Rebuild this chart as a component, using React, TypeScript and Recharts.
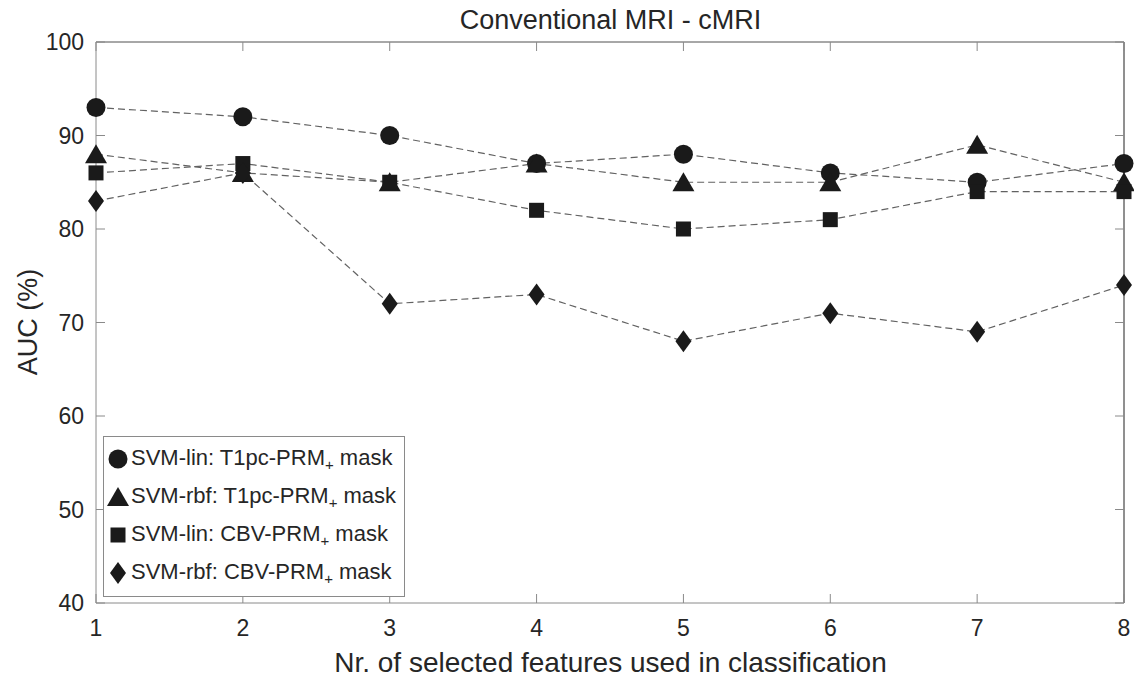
import React from 'react';
import { LineChart, Line, XAxis, YAxis, ReferenceLine } from 'recharts';

const xValues = [1, 2, 3, 4, 5, 6, 7, 8];
const svmLinT1 = [93, 92, 90, 87, 88, 86, 85, 87];
const svmRbfT1 = [88, 86, 85, 87, 85, 85, 89, 85];
const svmLinCBV = [86, 87, 85, 82, 80, 81, 84, 84];
const svmRbfCBV = [83, 86, 72, 73, 68, 71, 69, 74];
const yTicks = [40, 50, 60, 70, 80, 90, 100];
const xTicks = [1, 2, 3, 4, 5, 6, 7, 8];
const seriesLabels = [
  { pre: 'SVM-lin: T1pc-PRM', post: ' mask', shape: 'circle' },
  { pre: 'SVM-rbf: T1pc-PRM', post: ' mask', shape: 'triangle' },
  { pre: 'SVM-lin: CBV-PRM', post: ' mask', shape: 'square' },
  { pre: 'SVM-rbf: CBV-PRM', post: ' mask', shape: 'diamond' },
];
const title = 'Conventional MRI - cMRI';
const xLabel = 'Nr. of selected features used in classification';
const yLabel = 'AUC (%)';

const data = xValues.map((x, i) => ({
  x,
  a: svmLinT1[i],
  b: svmRbfT1[i],
  c: svmLinCBV[i],
  d: svmRbfCBV[i],
}));

const FONT = '"Liberation Sans", Arial, Helvetica, sans-serif';
const TEXT = '#262626';
const AXIS = '#8a8a8a';
const MARK = '#1a1a1a';
const LINE = '#626262';
const TICK_LEN = 9;

function Marker({ shape, cx, cy }: { shape: string; cx: number; cy: number }) {
  if (shape === 'circle') return <circle cx={cx} cy={cy} r={9.5} fill={MARK} />;
  if (shape === 'triangle') {
    const w = 11, h = 10;
    return <polygon points={`${cx},${cy - h} ${cx - w},${cy + h * 0.9} ${cx + w},${cy + h * 0.9}`} fill={MARK} />;
  }
  if (shape === 'square') return <rect x={cx - 7.5} y={cy - 7.5} width={15} height={15} fill={MARK} />;
  return <polygon points={`${cx},${cy - 11} ${cx + 8},${cy} ${cx},${cy + 11} ${cx - 8},${cy}`} fill={MARK} />;
}

const makeDot = (shape: string) => (props: any) => {
  const { cx, cy, index } = props;
  if (cx == null || cy == null) return <g key={`${shape}-${index}`} />;
  return (
    <g key={`${shape}-${index}`}>
      <Marker shape={shape} cx={cx} cy={cy} />
    </g>
  );
};

const LeftTick = (props: any) => {
  const { x, y, payload } = props;
  const axisX = x + 12;
  return (
    <g>
      <line x1={axisX} y1={y} x2={axisX + TICK_LEN} y2={y} stroke={AXIS} strokeWidth={1} />
      <text x={x} y={y} dy={8} textAnchor="end" fill={TEXT} fontSize={23} fontFamily={FONT}>
        {payload.value}
      </text>
    </g>
  );
};

const RightTick = (props: any) => {
  const { x, y } = props;
  return <line x1={x} y1={y} x2={x - TICK_LEN} y2={y} stroke={AXIS} strokeWidth={1} />;
};

const BottomTick = (props: any) => {
  const { x, y, payload } = props;
  const axisY = y - 10;
  return (
    <g>
      <line x1={x} y1={axisY} x2={x} y2={axisY - TICK_LEN} stroke={AXIS} strokeWidth={1} />
      <text x={x} y={y} dy={23} textAnchor="middle" fill={TEXT} fontSize={23} fontFamily={FONT}>
        {payload.value}
      </text>
    </g>
  );
};

const TopTick = (props: any) => {
  const { x, y } = props;
  return <line x1={x} y1={y} x2={x} y2={y + TICK_LEN} stroke={AXIS} strokeWidth={1} />;
};

const LegendBox = () => (
  <div
    style={{
      position: 'absolute',
      left: 103,
      top: 436,
      border: `1px solid ${AXIS}`,
      background: '#fff',
      padding: '3px 4px 4px 2px',
      fontFamily: FONT,
      fontSize: 22,
      color: TEXT,
      width: 302,
      boxSizing: 'border-box',
    }}
  >
    {seriesLabels.map((s) => (
      <div key={s.shape} style={{ display: 'flex', alignItems: 'center', height: 38 }}>
        <svg width={24} height={26} style={{ flex: 'none' }}>
          <Marker shape={s.shape} cx={12} cy={13} />
        </svg>
        <span style={{ whiteSpace: 'nowrap', marginLeft: 1 }}>
          {s.pre}
          <sub style={{ fontSize: 15 }}>+</sub>
          {s.post}
        </span>
      </div>
    ))}
  </div>
);

export default function App() {
  return (
    <div style={{ position: 'absolute', left: 0, top: 0, width: 1134, height: 679, background: '#fff' }}>
      <LineChart
        width={1134}
        height={679}
        data={data}
        margin={{ top: 41, right: 9, bottom: 35, left: 0 }}
      >
        <XAxis
          dataKey="x"
          type="number"
          domain={[1, 8]}
          ticks={xTicks}
          height={41}
          tickSize={0}
          tickMargin={10}
          tick={<BottomTick />}
          axisLine={{ stroke: AXIS, strokeWidth: 1 }}
          tickLine={false}
          interval={0}
        />
        <XAxis
          xAxisId="top"
          dataKey="x"
          type="number"
          orientation="top"
          domain={[1, 8]}
          ticks={xTicks}
          height={1}
          tickSize={0}
          tickMargin={0}
          tick={<TopTick />}
          axisLine={{ stroke: AXIS, strokeWidth: 1 }}
          tickLine={false}
          interval={0}
        />
        <YAxis
          type="number"
          domain={[40, 100]}
          ticks={yTicks}
          width={96}
          tickSize={0}
          tickMargin={12}
          tick={<LeftTick />}
          axisLine={{ stroke: AXIS, strokeWidth: 1 }}
          tickLine={false}
          interval={0}
        />
        <YAxis
          yAxisId="right"
          orientation="right"
          type="number"
          domain={[40, 100]}
          ticks={yTicks}
          width={1}
          tickSize={0}
          tickMargin={0}
          tick={<RightTick />}
          axisLine={{ stroke: '#6a6a6a', strokeWidth: 1 }}
          tickLine={false}
          interval={0}
        />
        <ReferenceLine y={100} stroke={AXIS} strokeWidth={1} ifOverflow="visible" />
        <ReferenceLine x={8} stroke="#6a6a6a" strokeWidth={1} ifOverflow="visible" />
        <Line
          xAxisId="top"
          yAxisId="right"
          dataKey="a"
          stroke="none"
          dot={false}
          activeDot={false}
          isAnimationActive={false}
        />
        <Line dataKey="a" stroke={LINE} strokeWidth={1.2} strokeDasharray="7 4" dot={makeDot('circle')} isAnimationActive={false} activeDot={false} />
        <Line dataKey="b" stroke={LINE} strokeWidth={1.2} strokeDasharray="7 4" dot={makeDot('triangle')} isAnimationActive={false} activeDot={false} />
        <Line dataKey="c" stroke={LINE} strokeWidth={1.2} strokeDasharray="7 4" dot={makeDot('square')} isAnimationActive={false} activeDot={false} />
        <Line dataKey="d" stroke={LINE} strokeWidth={1.2} strokeDasharray="7 4" dot={makeDot('diamond')} isAnimationActive={false} activeDot={false} />
      </LineChart>
      <LegendBox />
      <div style={{ position: 'absolute', left: 96, width: 1029, top: 3, textAlign: 'center', fontFamily: FONT, fontSize: 27, color: TEXT, lineHeight: '34px' }}>
        {title}
      </div>
      <div style={{ position: 'absolute', left: 96, width: 1029, top: 646, textAlign: 'center', fontFamily: FONT, fontSize: 28, color: TEXT, lineHeight: '34px' }}>
        {xLabel}
      </div>
      <div
        style={{
          position: 'absolute',
          left: 28,
          top: 322,
          transform: 'translate(-50%, -50%) rotate(-90deg)',
          fontFamily: FONT,
          fontSize: 27,
          color: TEXT,
          whiteSpace: 'nowrap',
          lineHeight: '34px',
        }}
      >
        {yLabel}
      </div>
    </div>
  );
}
